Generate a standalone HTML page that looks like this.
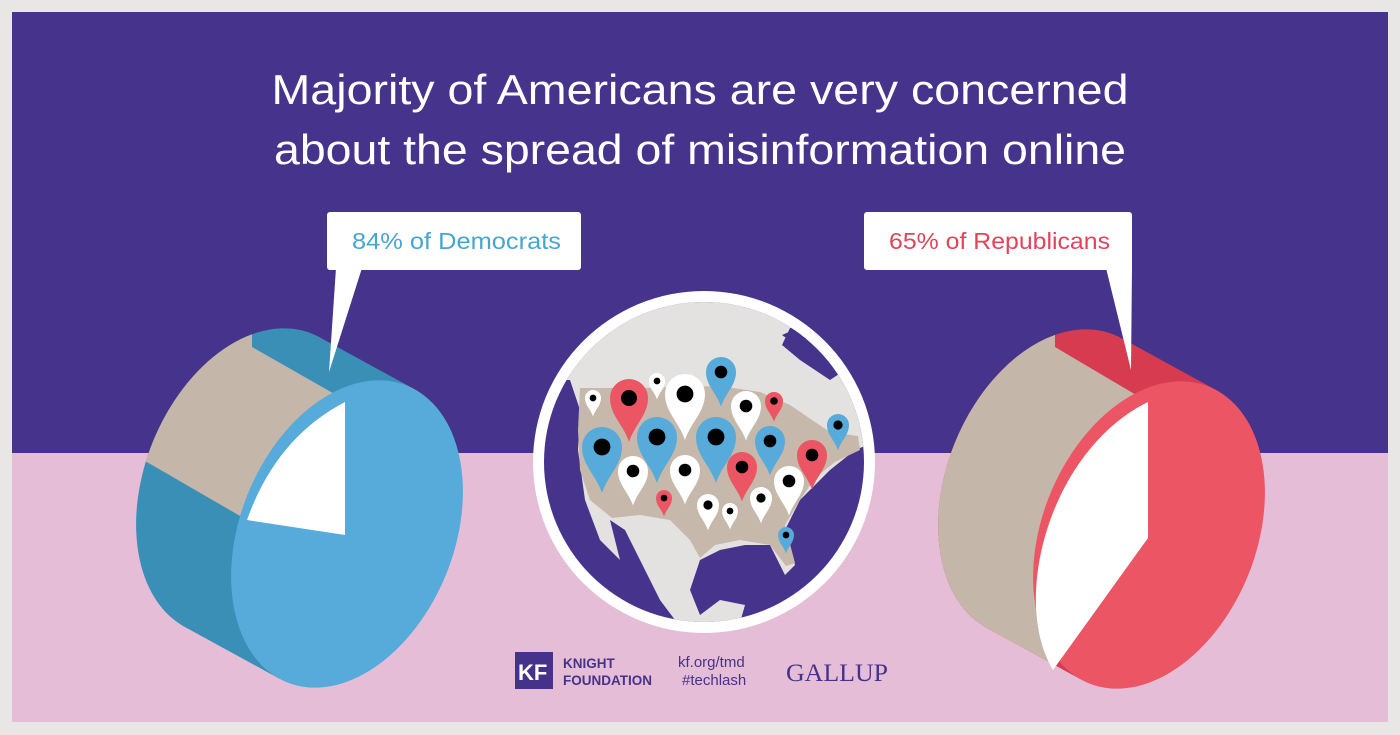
<!DOCTYPE html>
<html><head><meta charset="utf-8"><style>
html,body{margin:0;padding:0;background:#e9e7e5;}
svg{display:block;}
</style></head><body>
<svg id="root" width="1400" height="735" viewBox="0 0 1400 735" xmlns="http://www.w3.org/2000/svg">
<defs id="defs"><clipPath id="mapclip"><circle cx="704" cy="462" r="160"/></clipPath></defs>
<rect x="0" y="0" width="1400" height="735" fill="#e9e7e5"/>
<rect x="12" y="12" width="1376" height="441" fill="#46338c"/>
<rect x="12" y="453" width="1376" height="269" fill="#e6bdd7"/>
<g fill="#ffffff" font-family="Liberation Sans, sans-serif" font-size="42" text-anchor="middle">
<text x="700" y="104" textLength="857" lengthAdjust="spacingAndGlyphs">Majority of Americans are very concerned</text>
<text x="700" y="164" textLength="852" lengthAdjust="spacingAndGlyphs">about the spread of misinformation online</text>
</g>
<g id="leftpie"></g>
<g id="rightpie"></g>
<g>
<rect x="327" y="212" width="254" height="58" rx="3" fill="#fff"/>
<polygon points="336,268 362,268 329,372" fill="#fff"/>
<text x="352" y="249" font-family="Liberation Sans, sans-serif" font-size="23" fill="#47a5d4" textLength="209" lengthAdjust="spacingAndGlyphs">84% of Democrats</text>
</g>
<g>
<rect x="864" y="212" width="268" height="58" rx="3" fill="#fff"/>
<polygon points="1106,268 1132,268 1131,370" fill="#fff"/>
<text x="889" y="249" font-family="Liberation Sans, sans-serif" font-size="23" fill="#e2445a" textLength="221" lengthAdjust="spacingAndGlyphs">65% of Republicans</text>
</g>
<g>
<circle cx="704" cy="462" r="171" fill="#ffffff"/>
<circle cx="704" cy="462" r="160" fill="#46338c"/>
<g clip-path="url(#mapclip)">
<path d="M540,280 L880,280 L880,330 L790,328 L782,345 L800,360 L830,380 L848,368 L860,395 L880,410 L880,440 L855,450 L830,470 L800,500 L785,530 L795,565 L785,575 L770,545 L745,545 L720,550 L700,560 L690,590 L700,615 L720,600 L745,605 L735,640 L690,640 L660,600 L640,560 L625,530 L610,520 L620,560 L600,540 L585,500 L578,450 L580,410 L570,380 L540,380 Z" fill="#e4e2e0"/>
<path d="M782,335 L800,348 L815,335 L805,325 Z" fill="#46338c"/>
<path d="M580,388 L640,388 L720,386 L760,392 L790,405 L812,420 L830,432 L858,436 L860,450 L835,462 L815,478 L800,500 L785,525 L795,563 L786,566 L770,545 L740,540 L715,545 L700,558 L690,540 L670,520 L640,515 L612,518 L590,500 L580,470 L578,430 Z" fill="#c6b8aa"/>
</g>
<g id="pins"></g>
</g>
<g>
<rect x="515" y="652" width="38" height="37" fill="#45338b"/>
<text x="518" y="680" font-family="Liberation Sans, sans-serif" font-weight="bold" font-size="22" fill="#fff">KF</text>
<text x="563" y="668" font-family="Liberation Sans, sans-serif" font-weight="bold" font-size="13.5" fill="#45338b">KNIGHT</text>
<text x="563" y="685" font-family="Liberation Sans, sans-serif" font-weight="bold" font-size="13.5" fill="#45338b">FOUNDATION</text>
<text x="678" y="667" font-family="Liberation Sans, sans-serif" font-size="15" fill="#45338b">kf.org/tmd</text>
<text x="682" y="685" font-family="Liberation Sans, sans-serif" font-size="15" fill="#45338b">#techlash</text>
<text x="786" y="681" font-family="Liberation Serif, serif" font-size="25" fill="#45338b" textLength="102" lengthAdjust="spacingAndGlyphs">GALLUP</text>
</g>
</svg>
<script>
const groups = ["Democrats","Republicans"];
const concernedPct = [84, 65];
const pinX = [593,629,657,685,721,746,774,838,602,657,716,770,812,742,633,685,789,664,708,730,761,786];
const pinY = [398,398,381,394,372,406,401,425,447,437,437,441,455,467,471,470,481,498,505,511,498,535];
const pinR = [8,19,8,20,15,15,9,11,20,20,20,15,15,15,15,15,15,8,11,8,11,8];
const pinKind = ["w","r","w","w","b","w","r","b","b","b","b","b","r","r","w","w","w","r","w","w","w","b"];
const NS="http://www.w3.org/2000/svg";
function mk(tag, attrs, parent){const e=document.createElementNS(NS,tag);for(const k in attrs)e.setAttribute(k,attrs[k]);parent.appendChild(e);return e;}
const pinColors={w:"#ffffff",r:"#ec5563",b:"#57abda"};
const pg=document.getElementById('pins');
for(let i=0;i<pinX.length;i++){
  const x=pinX[i],y=pinY[i],r=pinR[i],t=y+2.3*r;
  const d=`M${x},${t} C${x-r*0.3},${y+r*1.4} ${x-r},${y+r*0.9} ${x-r},${y} A${r},${r} 0 1 1 ${x+r},${y} C${x+r},${y+r*0.9} ${x+r*0.3},${y+r*1.4} ${x},${t} Z`;
  const p=mk('path',{d:d,fill:pinColors[pinKind[i]]},pg);
  
  
  const c=mk('circle',{cx:x,cy:y,r:r*0.42,fill:'#000'},pg);
  
  
}
const defs=document.getElementById('defs');
function pie(gid, cx, cy, sideColor, faceColor, bandPath, whitePath){
  const g=document.getElementById(gid);
  const rx=107, ry=160, rot=22*Math.PI/180, dx=-95, dy=-52;
  function pt(t,ox,oy){const a=rx*Math.cos(t), b=ry*Math.sin(t);return [cx+ox+a*Math.cos(rot)-b*Math.sin(rot), cy+oy+a*Math.sin(rot)+b*Math.cos(rot)];}
  let best=[];let prev=null;
  for(let k=0;k<=3600;k++){const t=k/3600*2*Math.PI;const da=-rx*Math.sin(t), db=ry*Math.cos(t);
    const vx=da*Math.cos(rot)-db*Math.sin(rot), vy=da*Math.sin(rot)+db*Math.cos(rot);
    const cr=vx*dy-vy*dx; if(prev!==null && (prev<0)!==(cr<0)) best.push(t); prev=cr;}
  const [t1,t2]=best;
  const a1=pt(t1,0,0),a2=pt(t2,0,0),b1=pt(t1,dx,dy),b2=pt(t2,dx,dy);
  const polyPts=[a1,a2,b2,b1].map(p=>p.join(',')).join(' ');
  const ellT=`rotate(22 ${cx+dx} ${cy+dy})`;
  const cp=mk('clipPath',{id:gid+'-clip'},defs);
  mk('ellipse',{cx:cx+dx,cy:cy+dy,rx:rx,ry:ry,transform:ellT},cp);
  mk('polygon',{points:polyPts},cp);
  const back=mk('ellipse',{cx:cx+dx,cy:cy+dy,rx:rx,ry:ry,transform:ellT,fill:sideColor},g);
  
  
  const sh=mk('polygon',{points:polyPts,fill:sideColor},g);
  
  
  const band=mk('path',{d:bandPath,fill:'#c4b6a9','clip-path':`url(#${gid}-clip)`},g);
  
  
  const face=mk('ellipse',{cx:cx,cy:cy,rx:rx,ry:ry,transform:`rotate(22 ${cx} ${cy})`,fill:faceColor},g);
  
  
  const wh=mk('path',{d:whitePath,fill:'#ffffff'},g);
  
  
}
(function(){
  const p=concernedPct[0]/100, s=(1-p)/0.16;
  const ex=345-98*s, ey=535-15*s;
  pie('leftpie',347,534,'#3a8fb7','#57abda',
    'M252,347 L345,400 Q276,438 '+ex+','+ey+' L152,465 L90,430 L200,290 L252,290 Z',
    'M345,402 L345,535 L'+ex+','+ey+' Q276,438 345,402 Z');
})();
(function(){
  const p=concernedPct[1]/100, s=(1-p)/0.35;
  const ex=1148-95*s, ey=538+132*s;
  pie('rightpie',1149,535,'#d63b4f','#ec5563',
    'M1055,347 L1148,402 C1050,450 1010,600 '+ex+','+ey+' L958,615 L960,640 L870,640 L870,290 L1055,290 Z',
    'M1148,402 L1148,538 L'+ex+','+ey+' C1010,600 1050,450 1148,402 Z');
})();
</script>
</body></html>
